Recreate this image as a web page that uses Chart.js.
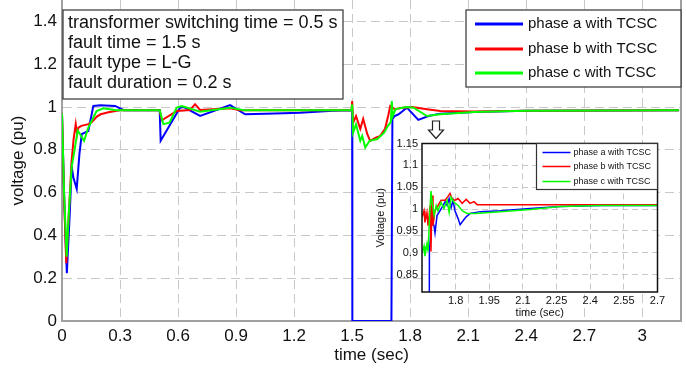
<!DOCTYPE html>
<html>
<head>
<meta charset="utf-8">
<script src="https://cdn.jsdelivr.net/npm/chart.js@4"></script>
<style>
  html, body { margin: 0; padding: 0; background: #fff; }
  #wrap { position: relative; width: 686px; height: 369px; }
  #main { position: absolute; left: 0; top: 0; }
  #zoom { position: absolute; left: 360px; top: 136px; }
</style>
</head>
<body>
<div id="wrap">
  <canvas id="main" width="686" height="369"></canvas>
  <canvas id="zoom" width="310" height="190"></canvas>
</div>
<script>
const seriesLabels = ['phase a with TCSC', 'phase b with TCSC', 'phase c with TCSC'];
const seriesColors = ['#0000ff', '#ff0000', '#00ff00'];

const noteLines = [
  'transformer switching time = 0.5 s',
  'fault time = 1.5 s',
  'fault type = L-G',
  'fault duration = 0.2 s'
];

// full run, 0 - 3.2 s
const timeA = [0, 0.012, 0.025, 0.04, 0.05, 0.059, 0.076, 0.09, 0.102, 0.136,
  0.162, 0.2, 0.274, 0.32, 0.505, 0.51, 0.61, 0.63, 0.714, 0.869,
  0.947, 1.1, 1.23, 1.4, 1.5, 1.501, 1.703, 1.708, 1.72, 1.74,
  1.76, 1.783, 1.842, 1.895, 1.955, 2.13, 2.4, 3.19];
const phaseA = [0.97, 0.55, 0.223, 0.5, 0.72, 0.671, 0.617, 0.78, 0.873, 0.888,
  1.005, 1.008, 1.005, 0.985, 0.985, 0.842, 0.997, 1.0, 0.958, 1.009,
  0.966, 0.97, 0.973, 0.982, 0.985, 0, 0, 0.943, 0.958, 0.966,
  0.98, 0.997, 0.94, 0.958, 0.969, 0.977, 0.982, 0.985];

const timeB = [0, 0.01, 0.022, 0.035, 0.05, 0.06, 0.071, 0.078, 0.085, 0.1,
  0.136, 0.155, 0.18, 0.2, 0.24, 0.3, 0.505, 0.516, 0.593, 0.662,
  0.688, 0.714, 0.87, 0.92, 1.0, 1.497, 1.5, 1.505, 1.52, 1.542,
  1.557, 1.578, 1.593, 1.62, 1.645, 1.67, 1.686, 1.697, 1.72, 1.75,
  1.81, 1.887, 1.955, 2.13, 2.4, 3.19];
const phaseB = [0.97, 0.6, 0.27, 0.5, 0.75, 0.85, 0.92, 0.873, 0.904, 0.912,
  0.92, 0.93, 0.955, 0.966, 0.975, 0.985, 0.985, 0.938, 0.981, 0.986,
  1.013, 0.986, 0.994, 0.985, 0.985, 0.985, 1.028, 0.926, 0.958, 0.898,
  0.944, 0.874, 0.842, 0.856, 0.865, 0.898, 0.958, 1.005, 0.99, 0.995,
  1.0, 0.99, 0.981, 0.979, 0.982, 0.985];

const timeC = [0, 0.01, 0.024, 0.035, 0.05, 0.065, 0.081, 0.095, 0.114, 0.136,
  0.179, 0.214, 0.28, 0.505, 0.524, 0.556, 0.593, 0.62, 0.714, 0.87,
  0.94, 1.497, 1.5, 1.505, 1.52, 1.542, 1.552, 1.568, 1.59, 1.63,
  1.665, 1.685, 1.7, 1.705, 1.71, 1.725, 1.78, 1.817, 1.887, 1.955,
  2.13, 2.4, 3.19];
const phaseC = [0.97, 0.62, 0.3, 0.5, 0.72, 0.8, 0.89, 0.87, 0.842, 0.904,
  0.981, 0.994, 0.985, 0.985, 0.92, 0.927, 0.997, 1.005, 0.978, 0.997,
  0.985, 0.985, 1.012, 0.88, 0.919, 0.842, 0.865, 0.811, 0.842, 0.85,
  0.88, 0.912, 0.93, 1.028, 0.958, 0.99, 1.0, 0.997, 0.958, 0.966,
  0.977, 0.982, 0.985];

// close-up after fault clearing, 1.65 - 2.7 s
const zoomTimeA = [1.65, 1.68, 1.683, 1.69, 1.695, 1.704, 1.708, 1.717, 1.73, 1.744,
  1.753, 1.762, 1.771, 1.78, 1.788, 1.797, 1.811, 1.82, 1.833, 1.847,
  1.865, 1.91, 1.999, 2.133, 2.267, 2.446, 2.7];
const zoomA = [0, 0, 0.903, 0.95, 0.978, 0.96, 0.945, 0.985, 0.996, 1.008,
  1.017, 1.008, 1.024, 1.003, 1.02, 0.996, 0.978, 0.964, 0.973, 0.982,
  0.99, 0.994, 0.996, 1.001, 1.006, 1.008, 1.008];

const zoomTimeB = [1.65, 1.659, 1.663, 1.672, 1.677, 1.686, 1.69, 1.695, 1.699, 1.708,
  1.721, 1.735, 1.753, 1.766, 1.775, 1.784, 1.797, 1.811, 1.829, 1.847,
  1.864, 1.882, 1.896, 2.7];
const zoomB = [0.981, 0.996, 0.969, 0.992, 0.962, 1.008, 0.903, 1.031, 0.962, 0.996,
  1.008, 1.02, 1.02, 1.029, 1.036, 1.024, 1.02, 1.024, 1.013, 1.022,
  1.013, 1.017, 1.01, 1.01];

const zoomTimeC = [1.65, 1.659, 1.663, 1.672, 1.677, 1.684, 1.69, 1.697, 1.704, 1.713,
  1.721, 1.735, 1.748, 1.762, 1.771, 1.78, 1.793, 1.811, 1.829, 1.851,
  1.887, 1.999, 2.133, 2.267, 2.445, 2.7];
const zoomC = [0.899, 0.915, 0.892, 0.92, 0.903, 0.985, 1.041, 1.008, 0.985, 1.008,
  0.996, 1.015, 1.001, 1.02, 0.992, 1.027, 1.015, 1.008, 0.996, 0.99,
  0.99, 0.994, 0.999, 1.006, 1.008, 1.008];

const xTicks = [0, 0.3, 0.6, 0.9, 1.2, 1.5, 1.8, 2.1, 2.4, 2.7, 3];
const yTicks = [0, 0.2, 0.4, 0.6, 0.8, 1, 1.2, 1.4];
const zoomXTicks = [1.8, 1.95, 2.1, 2.25, 2.4, 2.55, 2.7];
const zoomYTicks = [0.85, 0.9, 0.95, 1, 1.05, 1.1, 1.15];

const FONT = "'Liberation Sans', Arial, sans-serif";

function points(t, v) {
  return t.map((x, i) => ({ x: x, y: v[i] }));
}

function makeSets(pairs, width) {
  return pairs.map((p, i) => ({
    label: seriesLabels[i],
    data: points(p[0], p[1]),
    borderColor: seriesColors[i],
    borderWidth: width,
    order: 3 - i
  }));
}

function fixedTicks(list) {
  return (s) => { s.ticks = list.map(v => ({ value: v })); };
}

function drawLegend(ctx, x, y, w, h, rows, lineX0, lineX1, textX, font, lineW) {
  ctx.save();
  ctx.fillStyle = '#fff';
  ctx.fillRect(x, y, w, h);
  ctx.strokeStyle = '#333';
  ctx.lineWidth = 1.2;
  ctx.strokeRect(x, y, w, h);
  ctx.font = font;
  ctx.textBaseline = 'middle';
  ctx.fillStyle = '#111';
  seriesLabels.forEach((lab, i) => {
    const cy = y + rows[i];
    ctx.strokeStyle = seriesColors[i];
    ctx.lineWidth = lineW;
    ctx.beginPath();
    ctx.moveTo(x + lineX0, cy);
    ctx.lineTo(x + lineX1, cy);
    ctx.stroke();
    ctx.fillText(lab, x + textX, cy);
  });
  ctx.restore();
}

const mainDecor = {
  id: 'mainDecor',
  afterDraw(chart) {
    const { ctx, chartArea: a } = chart;
    ctx.save();
    // right frame edge
    ctx.strokeStyle = '#a0a0a0';
    ctx.lineWidth = 2;
    ctx.beginPath();
    ctx.moveTo(a.right, a.top);
    ctx.lineTo(a.right, a.bottom);
    ctx.stroke();

    // notes box
    ctx.fillStyle = '#fff';
    ctx.fillRect(a.left + 1, 10, 280, 89);
    ctx.strokeStyle = '#333';
    ctx.lineWidth = 1.2;
    ctx.strokeRect(a.left + 1, 10, 280, 89);
    ctx.font = '18px ' + FONT;
    ctx.fillStyle = '#111';
    ctx.textBaseline = 'middle';
    noteLines.forEach((t, i) => ctx.fillText(t, a.left + 6, 23 + i * 20));

    // down arrow pointing at the close-up
    ctx.beginPath();
    ctx.moveTo(432.5, 121);
    ctx.lineTo(439.5, 121);
    ctx.lineTo(439.5, 130);
    ctx.lineTo(443.5, 130);
    ctx.lineTo(436, 138.5);
    ctx.lineTo(428.5, 130);
    ctx.lineTo(432.5, 130);
    ctx.closePath();
    ctx.fillStyle = '#fff';
    ctx.fill();
    ctx.strokeStyle = '#222';
    ctx.lineWidth = 1.2;
    ctx.stroke();
    ctx.restore();

    drawLegend(ctx, 466, 10, a.right - 466, 77, [14, 39, 63], 9, 57, 62, '15px ' + FONT, 3);
  }
};

const zoomDecor = {
  id: 'zoomDecor',
  beforeDraw(chart) {
    const { ctx, chartArea: a } = chart;
    ctx.save();
    ctx.fillStyle = '#fff';
    ctx.fillRect(a.left, a.top, a.right - a.left, a.bottom - a.top);
    ctx.restore();
  },
  afterDraw(chart) {
    const { ctx, chartArea: a } = chart;
    ctx.save();
    ctx.strokeStyle = '#111';
    ctx.lineWidth = 1.5;
    ctx.strokeRect(a.left, a.top, a.right - a.left, a.bottom - a.top);
    ctx.restore();
    drawLegend(ctx, a.right - 121, a.top, 121, 46, [9, 23, 38], 6, 34, 37, '9px ' + FONT, 1.5);
  }
};

function axis(opts) {
  return {
    type: 'linear',
    min: opts.min,
    max: opts.max,
    afterBuildTicks: fixedTicks(opts.ticks),
    afterFit: (s) => {
      s.paddingTop = 0; s.paddingBottom = 0; s.paddingLeft = 0; s.paddingRight = 0;
      if (opts.width) s.width = opts.width;
      if (opts.height) s.height = opts.height;
    },
    ticks: {
      callback: (v) => String(v),
      autoSkip: false,
      maxRotation: 0,
      padding: opts.pad,
      color: '#111',
      font: { family: FONT, size: opts.size }
    },
    grid: { color: '#c8c8c8', lineWidth: 1, drawTicks: false },
    border: { display: opts.border, color: '#a0a0a0', width: 2, dash: opts.dash },
    title: {
      display: true,
      text: opts.title,
      color: '#111',
      font: { family: FONT, size: opts.size },
      padding: opts.titlePad
    }
  };
}

new Chart(document.getElementById('main'), {
  type: 'line',
  data: {
    datasets: makeSets([[timeA, phaseA], [timeB, phaseB], [timeC, phaseC]], 2)
  },
  options: {
    responsive: false,
    animation: false,
    layout: { padding: { top: 0, right: 5, bottom: 0, left: 0 } },
    elements: { point: { radius: 0 }, line: { tension: 0 } },
    plugins: { legend: { display: false }, tooltip: { enabled: false } },
    scales: {
      x: axis({ min: 0, max: 3.2, ticks: xTicks, height: 48, pad: 5, size: 17,
        title: 'time (sec)', titlePad: { top: 0, bottom: 3 }, border: true, dash: [9, 5] }),
      y: axis({ min: 0, max: 1.5, ticks: yTicks, width: 62, pad: 5, size: 17,
        title: 'voltage (pu)', titlePad: { top: 8, bottom: 0 }, border: true, dash: [9, 5] })
    }
  },
  plugins: [mainDecor]
});

new Chart(document.getElementById('zoom'), {
  type: 'line',
  data: {
    datasets: makeSets([[zoomTimeA, zoomA], [zoomTimeB, zoomB], [zoomTimeC, zoomC]], 1.5)
  },
  options: {
    responsive: false,
    animation: false,
    layout: { padding: { top: 7.5, right: 12.5, bottom: 0, left: 0 } },
    elements: { point: { radius: 0 }, line: { tension: 0 } },
    plugins: { legend: { display: false }, tooltip: { enabled: false } },
    scales: {
      x: axis({ min: 1.65, max: 2.7, ticks: zoomXTicks, height: 34, pad: 2, size: 11,
        title: 'time (sec)', titlePad: { top: 0, bottom: 6 }, border: false, dash: [6, 4] }),
      y: axis({ min: 0.81, max: 1.15, ticks: zoomYTicks, width: 62, pad: 4, size: 11,
        title: 'Voltage (pu)', titlePad: { top: 14, bottom: 0 }, border: false, dash: [6, 4] })
    }
  },
  plugins: [zoomDecor]
});
</script>
</body>
</html>
